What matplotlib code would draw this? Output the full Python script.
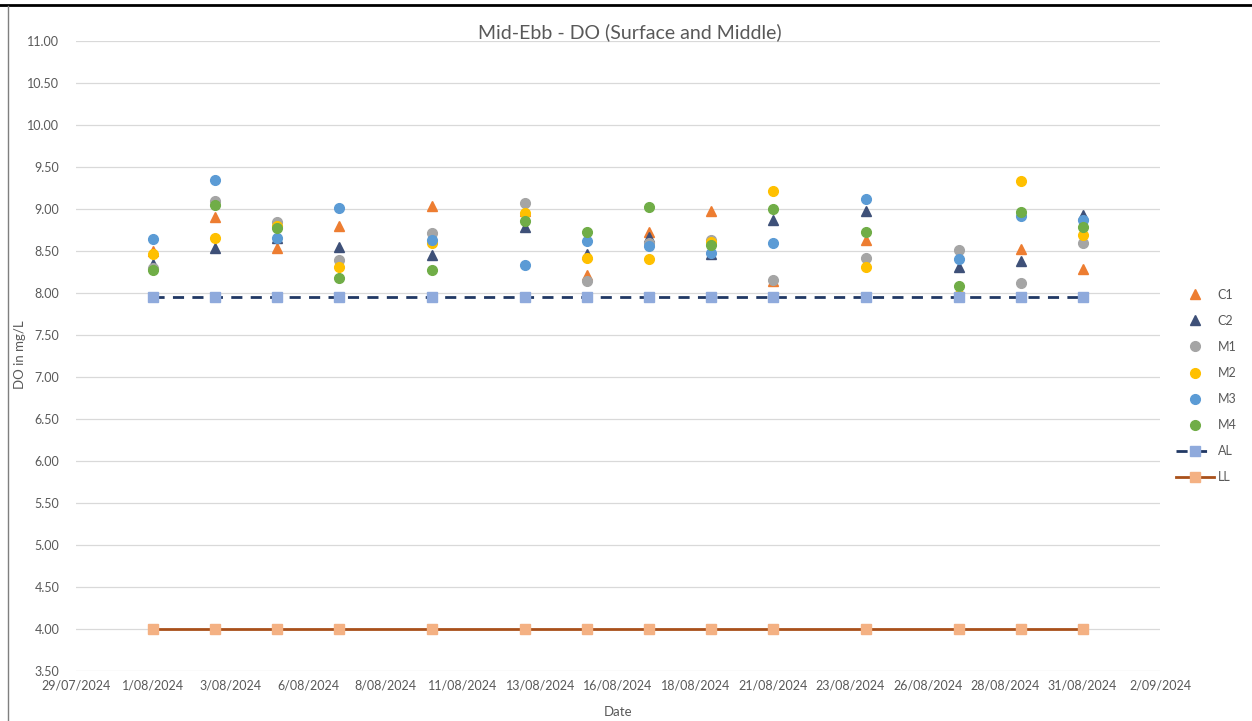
import numpy as np
import matplotlib
matplotlib.use("Agg")
import matplotlib.pyplot as plt
import matplotlib.dates as mdates
from matplotlib.lines import Line2D
from datetime import datetime

plt.rcParams['font.family'] = ['Lato', 'DejaVu Sans']

# sampling days in August 2024
days = [1, 3, 5, 7, 10, 13, 15, 17, 19, 21, 24, 27, 29, 31]
dates = [datetime(2024, 8, d) for d in days]

nan = np.nan
c1 = [8.50, 8.91, 8.54, 8.80, 9.04, 8.98, 8.22, 8.73, 8.98, 8.14, 8.63, nan, 8.52, 8.28]
c2 = [8.35, 8.53, 8.65, 8.55, 8.45, 8.78, 8.47, 8.67, 8.46, 8.87, 8.98, 8.31, 8.38, 8.93]
m1 = [8.30, 9.10, 8.84, 8.39, 8.71, 9.07, 8.14, 8.60, 8.63, 8.16, 8.42, 8.51, 8.12, 8.60]
m2 = [8.46, 8.65, 8.80, 8.31, 8.60, 8.95, 8.42, 8.40, 8.61, 9.22, 8.31, 7.98, 9.33, 8.69]
m3 = [8.64, 9.34, 8.66, 9.01, 8.63, 8.33, 8.62, 8.56, 8.48, 8.60, 9.12, 8.40, 8.92, 8.87]
m4 = [8.27, 9.05, 8.77, 8.18, 8.27, 8.86, 8.73, 9.02, 8.57, 9.00, 8.73, 8.08, 8.97, 8.79]
al = [7.95] * len(days)
ll = [4.00] * len(days)

fig = plt.figure(figsize=(12.52, 7.21), dpi=100)
ax = fig.add_axes([76 / 1252, 1 - 671 / 721, (1160 - 76) / 1252, (671 - 41) / 721])

ms = 7
ax.plot(dates, c1, '^', color='#ED7D31', ms=ms, label='C1')
ax.plot(dates, c2, '^', color='#3E5078', ms=ms, label='C2')
ax.plot(dates, m1, 'o', color='#A5A5A5', ms=ms, label='M1')
ax.plot(dates, m2, 'o', color='#FFC000', ms=ms, label='M2')
ax.plot(dates, m3, 'o', color='#5B9BD5', ms=ms, label='M3')
ax.plot(dates, m4, 'o', color='#70AD47', ms=ms, label='M4')
ax.plot(dates, al, color='#203864', lw=2, ls=(0, (4, 3)), marker='s', ms=ms,
        mfc='#8FAADC', mec='#8FAADC', label='AL')
ax.plot(dates, ll, color='#A9501A', lw=2, marker='s', ms=ms,
        mfc='#F4B183', mec='#F4B183', label='LL')

# axes styling, Excel-like
start = datetime(2024, 7, 29, 12)
end = datetime(2024, 9, 2, 12)
ax.set_xlim(start, end)
ax.set_ylim(3.5, 11.0)
ax.set_yticks(np.arange(3.5, 11.01, 0.5))
ax.yaxis.set_major_formatter(plt.FuncFormatter(lambda v, p: f"{v:.2f}"))
xt = np.arange(mdates.date2num(start), mdates.date2num(end) + 0.01, 2.5)
ax.set_xticks(xt)


def fmt_date(v, p):
    d = mdates.num2date(v)
    return f"{d.day}/{d.month:02d}/{d.year}"


ax.xaxis.set_major_formatter(plt.FuncFormatter(fmt_date))
for s in ax.spines.values():
    s.set_visible(False)
ax.tick_params(length=0, labelsize=9, colors='#595959', pad=6)
ax.tick_params(axis='y', pad=12)
ax.grid(axis='y', color='#D9D9D9', lw=0.9)
ax.set_axisbelow(True)

fig.text(630 / 1252, 1 - 32 / 721, 'Mid-Ebb - DO (Surface and Middle)', ha='center',
         va='center', fontsize=14, color='#595959')
fig.text(618 / 1252, 1 - 712 / 721, 'Date', ha='center', va='center', fontsize=9.5,
         color='#595959')
fig.text(20 / 1252, 1 - 355 / 721, 'DO in mg/L', ha='center', va='center', fontsize=9.5,
         color='#595959', rotation=90)

fig.legend(loc='center left', bbox_to_anchor=(1165 / 1252, 1 - 386 / 721), frameon=False,
           fontsize=9, labelspacing=1.13, handlelength=3.0, handletextpad=0.3,
           labelcolor='#595959')

# page borders from the source document
fig.add_artist(Line2D([0, 1], [1 - 5 / 721, 1 - 5 / 721], color='black', lw=2))
fig.add_artist(Line2D([8 / 1252, 8 / 1252], [0, 1 - 6 / 721], color='#7F7F7F', lw=1))

fig.savefig('out.png', dpi=100)
